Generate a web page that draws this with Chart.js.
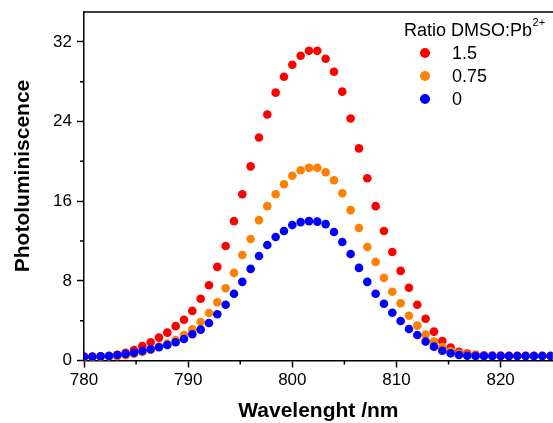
<!DOCTYPE html>
<html>
<head>
<meta charset="utf-8">
<script src="https://cdn.jsdelivr.net/npm/chart.js@4.4.0/dist/chart.umd.min.js"></script>
<style>
    html, body { margin: 0; padding: 0; background: #fff; overflow: hidden; }
    #wrap { width: 553px; height: 423px; overflow: hidden; }
</style>
</head>
<body>
<div id="wrap"><canvas id="plChart" width="557" height="423"></canvas></div>
<script>
// emission wavelength (nm)
const wavelength = [
    780.0, 780.8, 781.6, 782.4, 783.2, 784.0, 784.8, 785.6, 786.4, 787.2,
    788.0, 788.8, 789.6, 790.4, 791.2, 792.0, 792.8, 793.6, 794.4, 795.2,
    796.0, 796.8, 797.6, 798.4, 799.2, 800.0, 800.8, 801.6, 802.4, 803.2,
    804.0, 804.8, 805.6, 806.4, 807.2, 808.0, 808.8, 809.6, 810.4, 811.2,
    812.0, 812.8, 813.6, 814.4, 815.2, 816.0, 816.8, 817.6, 818.4, 819.2,
    820.0, 820.8, 821.6, 822.4, 823.2, 824.0, 824.8
];

// PL intensity for each DMSO:Pb2+ ratio
const ratio15 = [
    0.40, 0.40, 0.42, 0.48, 0.58, 0.78, 1.06, 1.46, 1.83, 2.30,
    2.80, 3.45, 4.10, 4.98, 6.20, 7.55, 9.40, 11.5, 14.0, 16.7,
    19.5, 22.4, 24.7, 26.9, 28.5, 29.7, 30.6, 31.1, 31.1, 30.3,
    29.0, 27.0, 24.3, 21.3, 18.3, 15.5, 13.0, 10.9, 9.00, 7.30,
    5.60, 4.20, 2.90, 1.96, 1.30, 0.88, 0.70, 0.58, 0.52, 0.50,
    0.50, 0.48, 0.48, 0.48, 0.48, 0.48, 0.48
];
const ratio075 = [
    0.30, 0.32, 0.34, 0.38, 0.42, 0.52, 0.65, 0.85, 1.09, 1.39,
    1.69, 2.06, 2.56, 3.13, 3.87, 4.77, 5.85, 7.26, 8.80, 10.6,
    12.2, 14.1, 15.5, 16.7, 17.7, 18.55, 19.1, 19.35, 19.35, 18.9,
    18.1, 16.8, 15.1, 13.3, 11.4, 9.90, 8.30, 6.90, 5.75, 4.50,
    3.50, 2.60, 1.90, 1.35, 0.95, 0.70, 0.56, 0.50, 0.46, 0.46,
    0.46, 0.46, 0.46, 0.46, 0.46, 0.46, 0.46
];
const ratio0 = [
    0.38, 0.38, 0.42, 0.45, 0.55, 0.65, 0.78, 0.95, 1.13, 1.33,
    1.56, 1.83, 2.16, 2.63, 3.10, 3.77, 4.64, 5.60, 6.70, 7.90,
    9.20, 10.5, 11.6, 12.4, 13.0, 13.6, 13.9, 14.0, 13.95, 13.7,
    12.9, 11.9, 10.7, 9.30, 7.90, 6.70, 5.70, 4.80, 3.97, 3.17,
    2.56, 1.90, 1.39, 0.98, 0.72, 0.55, 0.48, 0.45, 0.45, 0.45,
    0.45, 0.45, 0.45, 0.45, 0.45, 0.45, 0.45
];

const seriesLabels = ['1.5', '0.75', '0'];
const seriesColors = ['#ff0000', '#ff8000', '#0000ff'];

const fontFamily = "'Liberation Sans', Arial, sans-serif";

function toPoints(ys) {
    return ys.map((y, i) => ({ x: wavelength[i], y: y }));
}

// short ticks half way between the labelled ones, plus the frame's top line
const frameAndMinorTicks = {
    id: 'frameAndMinorTicks',
    afterDraw(chart) {
        const ctx = chart.ctx;
        const area = chart.chartArea;
        const xs = chart.scales.x;
        const ys = chart.scales.y;
        ctx.save();
        ctx.strokeStyle = '#000';
        ctx.lineWidth = 1.5;
        ctx.beginPath();
        ctx.moveTo(area.left - 0.75, area.top);
        ctx.lineTo(area.right + 2, area.top);
        xs.ticks.forEach(t => {
            const v = t.value + 5;
            if (v < xs.max) {
                const px = xs.getPixelForValue(v);
                ctx.moveTo(px, area.bottom);
                ctx.lineTo(px, area.bottom + 4);
            }
        });
        ys.ticks.forEach(t => {
            const v = t.value + 4;
            if (v < ys.max) {
                const py = ys.getPixelForValue(v);
                ctx.moveTo(area.left, py);
                ctx.lineTo(area.left - 4, py);
            }
        });
        ctx.stroke();

        // y axis title sits a little above the middle of the axis
        ctx.translate(23, 176);
        ctx.rotate(-Math.PI / 2);
        ctx.fillStyle = '#000';
        ctx.font = 'bold 21px ' + fontFamily;
        ctx.textAlign = 'center';
        ctx.textBaseline = 'middle';
        ctx.fillText('Photoluminiscence', 0, 0);
        ctx.restore();
    }
};

const legendBox = {
    id: 'legendBox',
    afterDraw(chart) {
        const ctx = chart.ctx;
        ctx.save();
        ctx.fillStyle = '#000';
        ctx.textAlign = 'left';
        ctx.textBaseline = 'middle';
        ctx.font = '18px ' + fontFamily;
        ctx.fillText('Ratio DMSO:Pb', 404, 31);
        const w = ctx.measureText('Ratio DMSO:Pb').width;
        ctx.font = '11px ' + fontFamily;
        ctx.fillText('2+', 404 + w + 0.5, 23);
        chart.data.datasets.forEach((ds, i) => {
            const y = 53 + i * 23;
            ctx.beginPath();
            ctx.arc(425, y, 5, 0, Math.PI * 2);
            ctx.fillStyle = ds.backgroundColor;
            ctx.fill();
            ctx.fillStyle = '#000';
            ctx.font = '18px ' + fontFamily;
            ctx.fillText(ds.label, 452, y + 1);
        });
        ctx.restore();
    }
};

const ctx = document.getElementById('plChart').getContext('2d');
const plChart = new Chart(ctx, {
    type: 'scatter',
    data: {
        datasets: [
            { label: seriesLabels[0], data: toPoints(ratio15), backgroundColor: seriesColors[0], order: 3 },
            { label: seriesLabels[1], data: toPoints(ratio075), backgroundColor: seriesColors[1], order: 2 },
            { label: seriesLabels[2], data: toPoints(ratio0), backgroundColor: seriesColors[2], order: 1 }
        ]
    },
    options: {
        responsive: false,
        animation: false,
        events: [],
        layout: { padding: { top: 12, left: 0, right: 0, bottom: 0 } },
        elements: {
            point: { radius: 4.3, hoverRadius: 4.3, borderWidth: 0 }
        },
        plugins: {
            legend: { display: false },
            tooltip: { enabled: false }
        },
        scales: {
            x: {
                type: 'linear',
                position: 'bottom',
                min: 780,
                max: 825,
                afterFit: s => { s.height = 62.5; },
                ticks: {
                    stepSize: 10,
                    includeBounds: false,
                    maxRotation: 0,
                    padding: 3,
                    color: '#000',
                    font: { family: fontFamily, size: 17 }
                },
                grid: {
                    drawOnChartArea: false,
                    tickLength: 7,
                    tickWidth: 1.5,
                    tickColor: '#000'
                },
                border: { color: '#000', width: 1.5 },
                title: {
                    display: true,
                    text: 'Wavelenght /nm',
                    color: '#000',
                    font: { family: fontFamily, size: 21, weight: 'bold', lineHeight: 1 },
                    padding: { top: 0, bottom: 1 }
                }
            },
            y: {
                min: 0,
                max: 35,
                afterFit: s => { s.width = 84; s.paddingTop = 0; s.paddingBottom = 0; },
                ticks: {
                    stepSize: 8,
                    includeBounds: false,
                    padding: 5,
                    color: '#000',
                    font: { family: fontFamily, size: 17 }
                },
                grid: {
                    drawOnChartArea: false,
                    tickLength: 7,
                    tickWidth: 1.5,
                    tickColor: '#000'
                },
                border: { color: '#000', width: 1.5 }
            }
        }
    },
    plugins: [frameAndMinorTicks, legendBox]
});
</script>
</body>
</html>
